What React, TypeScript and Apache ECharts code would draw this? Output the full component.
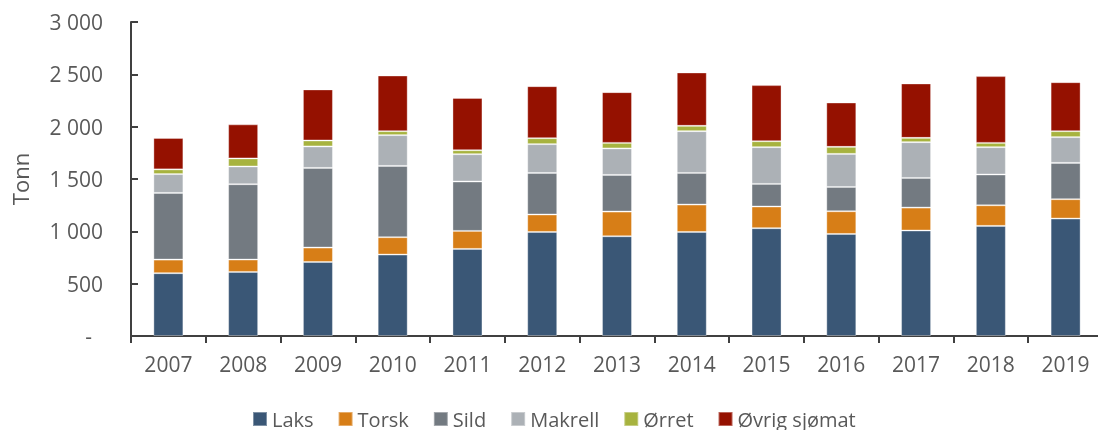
import React, { useEffect, useRef } from "react";
import * as echarts from "echarts";

const years = ["2007","2008","2009","2010","2011","2012","2013","2014","2015","2016","2017","2018","2019"];
const laks = [600, 612, 707, 778, 832, 994, 953, 994, 1030, 975, 1008, 1052, 1122];
const torsk = [130, 118, 138, 166, 172, 167, 236, 262, 207, 217, 219, 197, 185];
const sild = [637, 720, 761, 681, 472, 397, 350, 302, 216, 232, 283, 294, 347];
const makrell = [180, 170, 205, 294, 261, 275, 253, 399, 351, 316, 342, 261, 246];
const orret = [45, 77, 57, 38, 38, 57, 53, 51, 57, 67, 41, 41, 57];
const ovrig = [300, 325, 488, 532, 500, 497, 485, 510, 536, 424, 520, 638, 468];

const seriesDefs = [
  { name: "Laks", data: laks, color: "#3a5776" },
  { name: "Torsk", data: torsk, color: "#d77e17" },
  { name: "Sild", data: sild, color: "#737a81" },
  { name: "Makrell", data: makrell, color: "#acb1b6" },
  { name: "Ørret", data: orret, color: "#a7b33f" },
  { name: "Øvrig sjømat", data: ovrig, color: "#951100" },
];

const FONT = "'Open Sans', sans-serif";
const TEXT = "#595959";

export default function App() {
  const ref = useRef<HTMLDivElement>(null);
  useEffect(() => {
    if (!ref.current) return;
    const chart = echarts.init(ref.current, undefined, { renderer: "svg" });
    chart.setOption({
      animation: false,
      textStyle: { fontFamily: FONT },
      grid: { left: 131, top: 22, width: 972, height: 314, containLabel: false },
      legend: {
        top: 404,
        left: 247,
        itemWidth: 14,
        itemHeight: 14,
        itemGap: 24,
        icon: "rect",
        textStyle: { fontFamily: FONT, fontSize: 20, color: TEXT },
        data: seriesDefs.map((s) => s.name),
      },
      xAxis: {
        type: "category",
        data: years,
        axisLine: { lineStyle: { color: "#404040", width: 2 } },
        axisTick: { show: true, length: 7, lineStyle: { color: "#404040", width: 2 } },
        axisLabel: { fontFamily: FONT, fontSize: 21, color: TEXT, margin: 17 },
      },
      yAxis: {
        type: "value",
        min: 0,
        max: 3000,
        interval: 500,
        name: "Tonn",
        nameLocation: "middle",
        nameRotate: 90,
        nameGap: 100,
        nameTextStyle: { fontFamily: FONT, fontSize: 22, color: TEXT },
        splitLine: { show: false },
        axisLine: { show: true, lineStyle: { color: "#404040", width: 2 } },
        axisTick: { show: true, inside: true, length: 7, lineStyle: { color: "#404040", width: 2 } },
        axisLabel: {
          fontFamily: FONT,
          fontSize: 21,
          color: TEXT,
          margin: 28,
          formatter: (v: number) =>
            v === 0 ? "{d|-}" : String(v).replace(/\B(?=(\d{3})+(?!\d))/g, " "),
          rich: { d: { fontFamily: FONT, fontSize: 21, color: TEXT, padding: [0, 11, 0, 0] } },
        },
      },
      series: seriesDefs.map((s) => ({
        name: s.name,
        type: "bar",
        stack: "total",
        barWidth: 30,
        data: s.data,
        itemStyle: { color: s.color, borderColor: "rgba(255,255,255,0.35)", borderWidth: 1 },
      })),
    });
    return () => chart.dispose();
  }, []);
  return (
    <div
      ref={ref}
      style={{ position: "fixed", left: 0, top: 0, width: 1110, height: 430 }}
    />
  );
}
